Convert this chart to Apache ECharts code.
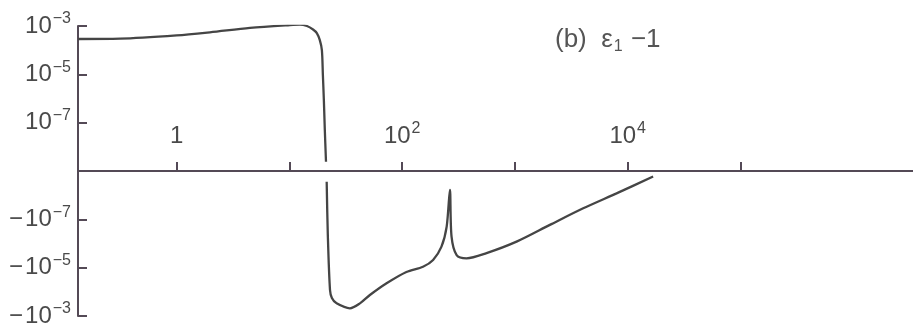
<!DOCTYPE html>
<html>
<head>
<meta charset="utf-8">
<script src="https://cdn.jsdelivr.net/npm/echarts@6/dist/echarts.min.js"></script>
<style>
  html, body { margin: 0; padding: 0; background: #ffffff; }
  #chart { width: 913px; height: 334px; }
</style>
</head>
<body>
<div id="chart"></div>
<script>
// ε1 − 1 against frequency: positive branch (low frequencies)
const freqPos = [0.1334, 0.315, 1, 1.97, 4.47, 10.1, 12.4, 14.3, 16.2, 17.5, 18.6, 19.4, 19.8, 20.2, 20.6, 21.1];
const epsPos  = [2.9e-4, 3.0e-4, 4.1e-4, 5.5e-4, 8.3e-4, 1.1e-3, 1.15e-3, 1.0e-3, 7.2e-4, 5.1e-4, 2.6e-4, 1.0e-4, 9.4e-6, 8.7e-7, 5e-8, 2.4e-9];

// negative branch (above the sign change)
const freqNeg = [21.4, 21.9, 22.9, 23.8, 26.2, 34.4, 42.2, 51.7, 72.7, 109, 153, 188, 223, 248, 265, 274, 304, 372, 560, 1033, 2040, 4030, 7960, 16800];
const epsNeg  = [-2.8e-9, -4.4e-7, -8.4e-5, -1.8e-4, -3.0e-4, -4.8e-4, -3.0e-4, -1.35e-4, -4.4e-5, -1.5e-5, -9.1e-6, -4.8e-6, -1.35e-6, -2.0e-7, -6.1e-9, -5.2e-7, -3.0e-6, -4.1e-6, -2.5e-6, -8.4e-7, -1.7e-7, -3.5e-8, -8.4e-9, -1.7e-9];

// axis ticks: base text and superscript for each label
const xTickValues  = [1, 10, 100, 1000, 10000, 100000];
const xLabelValues = [1, 100, 10000];
const xLabelBase   = ['1', '10', '10'];
const xLabelSup    = ['', '2', '4'];
const yTickValues  = [1e-3, 1e-5, 1e-7, -1e-7, -1e-5, -1e-3];
const yLabelBase   = ['10', '10', '10', '\u2212\u200a10', '\u2212\u200a10', '\u2212\u200a10'];
const yLabelSup    = ['\u22123', '\u22125', '\u22127', '\u22127', '\u22125', '\u22123'];

// symmetric log mapping: two decades per unit, zero sits at |v| = 1e-9
const FLOOR_EXP = -9;
function symlog(v) {
  if (v === 0) return 0;
  const m = (Math.log10(Math.abs(v)) - FLOOR_EXP) / 2;
  return Math.sign(v) * Math.max(0, m);
}

const posData = freqPos.map((f, i) => [f, symlog(epsPos[i])]);
const negData = freqNeg.map((f, i) => [f, symlog(epsNeg[i])]);
const yTicks = yTickValues.map(symlog);

function richLabel(base, sup) {
  return '{b|' + base + '}' + (sup ? '{s|' + sup + '}' : '');
}

const axisColor = '#544a56';
const textColor = '#4a4a4a';
const lineColor = '#454545';
const font = 'Liberation Sans, Arial, sans-serif';

const rich = {
  b: { fontSize: 24, fontFamily: font, color: textColor, lineHeight: 30 },
  s: { fontSize: 16, fontFamily: font, color: textColor, verticalAlign: 'top', lineHeight: 30, padding: [0, 0, 0, 1] }
};

const chart = echarts.init(document.getElementById('chart'), null, { renderer: 'canvas' });
chart.setOption({
  backgroundColor: '#ffffff',
  animation: false,
  grid: { left: 78, right: 0, top: 26, bottom: 18 },
  xAxis: {
    type: 'log',
    logBase: 10,
    min: Math.pow(10, -0.875),
    max: Math.pow(10, 6.53),
    position: 'bottom',
    offset: -145,
    axisLine: { onZero: false, lineStyle: { color: axisColor, width: 2 } },
    axisTick: { inside: true, length: 9, customValues: xTickValues, lineStyle: { color: axisColor, width: 2 } },
    axisLabel: {
      inside: true,
      margin: 20,
      customValues: xLabelValues,
      formatter: function (v) {
        const i = xLabelValues.findIndex(x => Math.abs(Math.log10(x) - Math.log10(v)) < 1e-6);
        return i >= 0 ? richLabel(xLabelBase[i], xLabelSup[i]) : '';
      },
      rich: rich
    },
    splitLine: { show: false },
    minorTick: { show: false }
  },
  yAxis: {
    type: 'value',
    min: -3,
    max: 3,
    interval: 1,
    axisLine: { show: true, lineStyle: { color: axisColor, width: 2 } },
    axisTick: { show: true, inside: true, length: 9, customValues: yTicks, lineStyle: { color: axisColor, width: 2 } },
    axisLabel: {
      margin: 7,
      customValues: yTicks,
      formatter: function (v) {
        const i = yTicks.findIndex(t => Math.abs(t - v) < 1e-6);
        return i >= 0 ? richLabel(yLabelBase[i], yLabelSup[i]) : '';
      },
      rich: rich
    },
    splitLine: { show: false }
  },
  graphic: [{
    type: 'text',
    left: 555,
    top: 27,
    style: {
      text: '{b|(b)  \u03b5}{u|1}{b|\u2009\u22121}',
      rich: {
        b: { fontSize: 26, fontFamily: font, fill: '#555555', lineHeight: 30 },
        u: { fontSize: 16, fontFamily: font, fill: '#555555', verticalAlign: 'bottom', lineHeight: 30, padding: [0, 3, 0, 1] }
      }
    }
  }],
  series: [
    {
      type: 'line', data: posData, showSymbol: false, smooth: 0.3,
      lineStyle: { color: lineColor, width: 2.3 }, z: 3
    },
    {
      type: 'line', data: negData, showSymbol: false, smooth: 0.3,
      lineStyle: { color: lineColor, width: 2.3 }, z: 3
    }
  ]
});
</script>
</body>
</html>
